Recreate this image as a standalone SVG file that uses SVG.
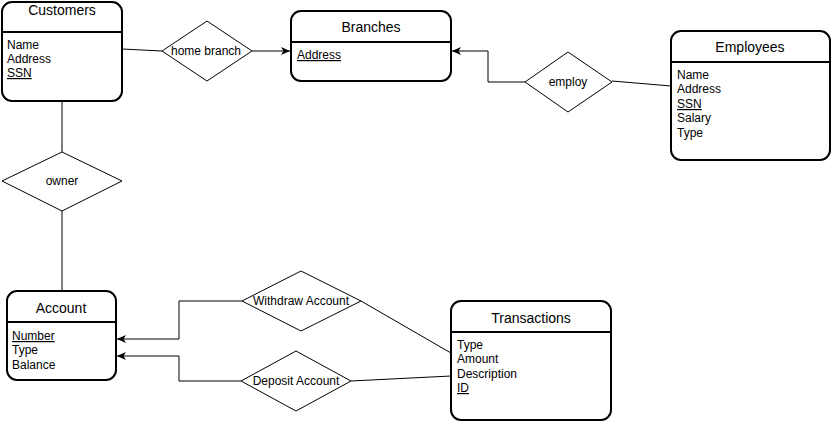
<svg xmlns="http://www.w3.org/2000/svg" width="832" height="422" viewBox="0 0 832 422">
<style>
.box{fill:#fff;stroke:#000;stroke-width:2}
.sep{stroke:#000;stroke-width:2}
.dia{fill:#fff;stroke:#000;stroke-width:1}
.ln{fill:none;stroke:#000;stroke-width:1}
.t{font-family:"Liberation Sans",Arial,sans-serif;font-size:14px;text-anchor:middle;fill:#000}
.a{font-family:"Liberation Sans",Arial,sans-serif;font-size:12px;fill:#000}
.u{text-decoration:underline}
.d{font-family:"Liberation Sans",Arial,sans-serif;font-size:12px;text-anchor:middle;fill:#000}
</style>
<defs>
<marker id="arr" viewBox="0 0 10 10" refX="9" refY="5" markerWidth="10" markerHeight="10" markerUnits="userSpaceOnUse" orient="auto">
<path d="M0,1 L9,5 L0,9 L2.5,5 Z" fill="#000"/>
</marker>
</defs>
<g id="connectors">
<path class="ln" d="M122,49 L162,51"/>
<path class="ln" d="M252,51 L290,51" marker-end="url(#arr)"/>
<path class="ln" d="M525,82 L488,82 L488,51 L452,51" marker-end="url(#arr)"/>
<path class="ln" d="M612,81 L671,86"/>
<path class="ln" d="M62,101 L62,152"/>
<path class="ln" d="M62,211 L62,291"/>
<path class="ln" d="M242,301 L179,301 L179,339 L117,339" marker-end="url(#arr)"/>
<path class="ln" d="M241,381 L179,381 L179,356 L117,356" marker-end="url(#arr)"/>
<path class="ln" d="M361,301 L451,353"/>
<path class="ln" d="M351,381 L451,376"/>
</g>
<g id="customers">
<rect class="box" x="2" y="2" width="120" height="99" rx="10"/>
<line class="sep" x1="2" y1="32" x2="122" y2="32"/>
<text class="t" x="62" y="15">Customers</text>
<text class="a" x="7" y="49">Name</text>
<text class="a" x="7" y="63">Address</text>
<text class="a u" x="7" y="77">SSN</text>
</g>
<g id="branches">
<rect class="box" x="291" y="11" width="160" height="70" rx="10"/>
<line class="sep" x1="291" y1="42" x2="451" y2="42"/>
<text class="t" x="371" y="32">Branches</text>
<text class="a u" x="297" y="59">Address</text>
</g>
<g id="employees">
<rect class="box" x="671" y="31" width="159" height="129" rx="10"/>
<line class="sep" x1="671" y1="62" x2="830" y2="62"/>
<text class="t" x="750" y="52">Employees</text>
<text class="a" x="677" y="79">Name</text>
<text class="a" x="677" y="93">Address</text>
<text class="a u" x="677" y="108">SSN</text>
<text class="a" x="677" y="122">Salary</text>
<text class="a" x="677" y="137">Type</text>
</g>
<g id="account">
<rect class="box" x="7" y="291" width="109" height="89" rx="10"/>
<line class="sep" x1="7" y1="322" x2="116" y2="322"/>
<text class="t" x="61" y="313">Account</text>
<text class="a u" x="12" y="340">Number</text>
<text class="a" x="12" y="354">Type</text>
<text class="a" x="12" y="369">Balance</text>
</g>
<g id="transactions">
<rect class="box" x="451" y="301" width="160" height="119" rx="10"/>
<line class="sep" x1="451" y1="332" x2="611" y2="332"/>
<text class="t" x="531" y="323">Transactions</text>
<text class="a" x="457" y="349">Type</text>
<text class="a" x="457" y="363">Amount</text>
<text class="a" x="457" y="378">Description</text>
<text class="a u" x="457" y="392">ID</text>
</g>
<g id="home-branch">
<polygon class="dia" points="207,21 252,51 207,81 162,51"/>
<text class="d" x="206" y="55">home branch</text>
</g>
<g id="employ">
<polygon class="dia" points="568,52 612,82 568,112 525,82"/>
<text class="d" x="568" y="86">employ</text>
</g>
<g id="owner">
<polygon class="dia" points="62,152 122,181 62,211 2,181"/>
<text class="d" x="62" y="185">owner</text>
</g>
<g id="withdraw-account">
<polygon class="dia" points="301,271 361,301 301,331 242,301"/>
<text class="d" x="301" y="305">Withdraw Account</text>
</g>
<g id="deposit-account">
<polygon class="dia" points="296,351 351,381 296,411 241,381"/>
<text class="d" x="296" y="385">Deposit Account</text>
</g>
</svg>
